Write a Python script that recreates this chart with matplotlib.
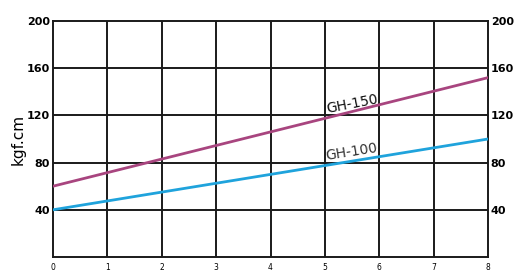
import matplotlib
matplotlib.use("Agg")
import matplotlib.pyplot as plt

x_vals = [0, 8]
gh150 = [60, 152]
gh100 = [40, 100]
y_ticks = [40, 80, 120, 160, 200]
x_ticks = [0, 1, 2, 3, 4, 5, 6, 7, 8]

fig = plt.figure(figsize=(5.15, 2.71), dpi=100)
W, H = 515, 271
ax = fig.add_axes([53 / W, 1 - 257 / H, (488 - 53) / W, (257 - 21) / H])
ax.set_xlim(0, 8)
ax.set_ylim(0, 200)
for xv in x_ticks[1:-1]:
    ax.axvline(xv, color="#1a1a1a", lw=1.4, zorder=1)
for yv in y_ticks[:-1]:
    ax.axhline(yv, color="#1a1a1a", lw=1.4, zorder=1)
for s in ax.spines.values():
    s.set_color("#1a1a1a")
    s.set_linewidth(1.4)

ax.plot(x_vals, gh150, color="#a8457f", lw=2.0, zorder=3)
ax.plot(x_vals, gh100, color="#1fa3dc", lw=2.0, zorder=3)
ax.text(5.0, 122, "GH-150", rotation=11, fontsize=10, color="#111111", zorder=4)
ax.text(5.0, 82, "GH-100", rotation=9, fontsize=10, color="#333333", zorder=4)

ax.set_xticks(x_ticks)
ax.set_xticklabels([str(v) for v in x_ticks], fontsize=5.5)
ax.set_yticks(y_ticks)
ax.set_yticklabels([str(v) for v in y_ticks], fontsize=8, fontweight="semibold")
ax.tick_params(axis="both", length=0, pad=4)
ax.tick_params(axis="y", labelright=True, right=False, pad=2)
ax.set_ylabel("kgf.cm", fontsize=11, labelpad=1)

fig.savefig("out.png", dpi=100)
